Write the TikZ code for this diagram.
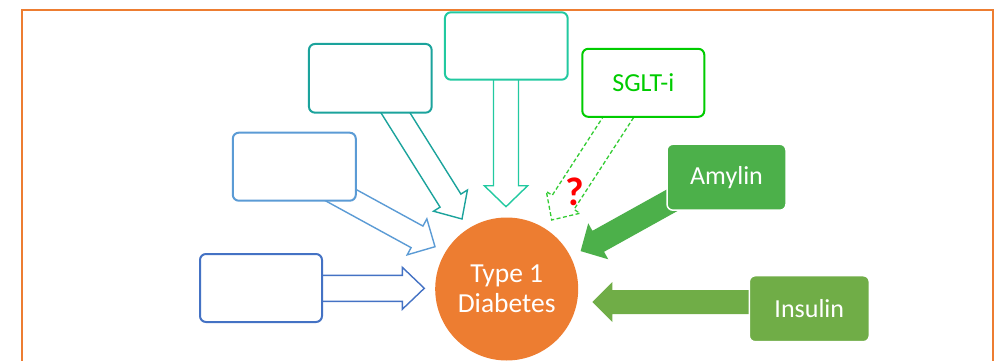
\documentclass[tikz,border=0pt]{standalone}
\usepackage{fontspec}
\setmainfont{Carlito}
\usetikzlibrary{calc}
\definecolor{cA}{HTML}{4472C4}
\definecolor{cB}{HTML}{5B9BD5}
\definecolor{cC}{HTML}{1BA39C}
\definecolor{cD}{HTML}{22C9A0}
\definecolor{cE}{HTML}{00CC00}
\definecolor{cEd}{HTML}{33CC33}
\definecolor{cAmy}{HTML}{4CB04A}
\definecolor{cIns}{HTML}{70AD47}
\definecolor{cOr}{HTML}{ED7D31}
\newcommand\blockarrow[6]{%
  \coordinate (hb) at ($(#3)!#6!(#2)$);
  \draw[#1] ($(#2)!#4!90:(#3)$) -- ($(hb)!#4!90:(#3)$) -- ($(hb)!#5!90:(#3)$) -- (#3)
    -- ($(hb)!#5!-90:(#3)$) -- ($(hb)!#4!-90:(#3)$) -- ($(#2)!#4!-90:(#3)$) -- cycle;
}
\tikzset{
  box/.style={rectangle, rounded corners=6pt, line width=2pt, fill=white,
    minimum width=122pt, minimum height=68pt, inner sep=0pt, font=\fontsize{26}{30}\selectfont},
  gbox/.style={rectangle, rounded corners=6pt, line width=1.5pt, draw=white, text=white,
    minimum width=120pt, minimum height=66pt, inner sep=0pt, font=\fontsize{26}{30}\selectfont},
  outarrow/.style={line width=1.4pt, fill=white, line join=miter},
}
\begin{document}
\begin{tikzpicture}[x=1pt,y=-1pt]
\useasboundingbox (0,0) rectangle (997,361);
% frame
\draw[cOr, line width=2.2pt] (22,380) -- (22,10) -- (993,10) -- (993,380);
% arrow coordinates
\coordinate (sA) at (300,288.3);  \coordinate (tA) at (424.3,288.3);
\coordinate (sB) at (321,184.3);  \coordinate (tB) at (435,246.7);
\coordinate (sC) at (387.7,100.4); \coordinate (tC) at (462,219);
\coordinate (sD) at (506,60);     \coordinate (tD) at (506,206.7);
\coordinate (sE) at (633.3,94.1); \coordinate (tE) at (551.7,220);
\coordinate (sM) at (676.7,197.7); \coordinate (tM) at (580.6,251.1);
\coordinate (sI) at (780,302);    \coordinate (tI) at (592.3,302);
% arrows
\blockarrow{outarrow, draw=cA}{sA}{tA}{13pt}{21pt}{22pt}
\blockarrow{outarrow, draw=cB}{sB}{tB}{12.3pt}{20.5pt}{20.5pt}
\blockarrow{outarrow, draw=cC}{sC}{tC}{12.3pt}{20pt}{21.7pt}
\blockarrow{outarrow, draw=cD}{sD}{tD}{12.5pt}{21.7pt}{21pt}
\blockarrow{outarrow, draw=cEd, dash pattern=on 4pt off 2.5pt, line width=1.3pt}{sE}{tE}{13pt}{20pt}{21pt}
\blockarrow{fill=cAmy, draw=none}{sM}{tM}{12pt}{20.6pt}{20.2pt}
\blockarrow{fill=cIns, draw=none}{sI}{tI}{12pt}{20pt}{20pt}
% boxes
\node[box, draw=cA] (A) at (261,288) {};
\node[box, draw=cB, minimum width=123pt] (B) at (294.3,166.7) {};
\node[box, draw=cC, minimum width=122.7pt, minimum height=68.7pt] (C) at (370.3,78.3) {};
\node[box, draw=cD, minimum width=122.7pt, minimum height=67.4pt] (D) at (506.3,46) {};
\node[box, draw=cE, text=cE] (E) at (643.3,82.8) {SGLT-i};
\node[gbox, fill=cAmy, minimum width=119pt] (M) at (726.5,177.2) {Amylin};
\node[gbox, fill=cIns] (I) at (809.3,308.7) {Insulin};
% circle
\node[circle, fill=cOr, minimum size=143pt, inner sep=0pt, text=white, align=center,
  font=\fontsize{27.5}{30}\selectfont] (T1D) at (506.7,289) {Type 1\\Diabetes};
% question mark
\node[text=red, font=\fontsize{40}{40}\selectfont\bfseries, inner sep=0pt] (q) at (575,192) {?};
\end{tikzpicture}
\end{document}
